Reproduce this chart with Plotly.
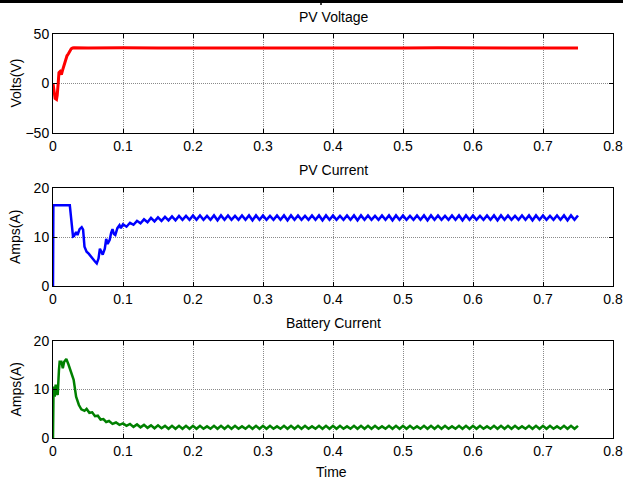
import plotly.graph_objects as go

# ---------------- data ----------------
# PV voltage (V)
v_t = [0, 0.002, 0.003, 0.005, 0.006, 0.0076, 0.0085, 0.010, 0.012, 0.0135, 0.015,
       0.018, 0.020, 0.022, 0.024, 0.026, 0.028, 0.030, 0.05, 0.07, 0.10, 0.15,
       0.20, 0.25, 0.30, 0.35, 0.40, 0.45, 0.50, 0.55, 0.60, 0.65, 0.70, 0.75]
v_y = [0, -8, -15, -16, -12, 2, 11, 12, 9, 13, 17,
       25, 28, 30, 33, 35, 35.8, 36, 35.8, 35.6, 36, 35.9,
       35.8, 36, 35.9, 35.8, 36, 35.9, 35.8, 36, 35.9, 35.8, 36, 35.9]

# PV current (A) – start-up transient
i_t0 = [0, 0.0005, 0.024, 0.026, 0.0286, 0.030, 0.033, 0.035, 0.038, 0.041, 0.043,
        0.045, 0.048, 0.051, 0.054, 0.057, 0.060, 0.0625, 0.065, 0.067, 0.069, 0.071,
        0.074, 0.076, 0.078, 0.081, 0.083, 0.085, 0.087, 0.089, 0.092, 0.095, 0.097]
i_y0 = [0, 16.5, 16.5, 14.1, 10.1, 10.2, 11.0, 10.4, 11.6, 12.0, 11.5,
        8.0, 7.0, 6.6, 6.0, 5.6, 5.0, 4.6, 5.6, 7.6, 7.0, 6.4,
        7.6, 9.6, 8.6, 9.4, 10.8, 11.6, 10.6, 10.4, 11.8, 12.4, 11.8]

# battery current (A) – start-up transient
b_t0 = [0, 0.0008, 0.0024, 0.0038, 0.0055, 0.0067, 0.0085, 0.0095, 0.012, 0.014,
        0.016, 0.019, 0.022, 0.025, 0.0295, 0.033, 0.037, 0.0405, 0.045, 0.048,
        0.052, 0.056, 0.060, 0.064, 0.068, 0.072, 0.076, 0.080, 0.085, 0.090, 0.095]
b_y0 = [0, 10.6, 8.5, 11.0, 9.2, 8.9, 14.0, 15.7, 15.7, 14.4,
        15.7, 16.3, 15.2, 13.7, 12.0, 8.5, 6.8, 5.9, 5.6, 6.0,
        5.2, 5.3, 4.5, 4.6, 3.8, 3.9, 3.3, 3.5, 2.9, 3.2, 2.7]

# ripple region sample times (s)
r_t = [0.100, 0.105, 0.110, 0.115, 0.120, 0.125, 0.130, 0.135, 0.140, 0.145,
       0.150, 0.155, 0.160, 0.165, 0.170, 0.175, 0.180, 0.185, 0.190, 0.195,
       0.200, 0.205, 0.210, 0.215, 0.220, 0.225, 0.230, 0.235, 0.240, 0.245,
       0.250, 0.255, 0.260, 0.265, 0.270, 0.275, 0.280, 0.285, 0.290, 0.295,
       0.300, 0.305, 0.310, 0.315, 0.320, 0.325, 0.330, 0.335, 0.340, 0.345,
       0.350, 0.355, 0.360, 0.365, 0.370, 0.375, 0.380, 0.385, 0.390, 0.395,
       0.400, 0.405, 0.410, 0.415, 0.420, 0.425, 0.430, 0.435, 0.440, 0.445,
       0.450, 0.455, 0.460, 0.465, 0.470, 0.475, 0.480, 0.485, 0.490, 0.495,
       0.500, 0.505, 0.510, 0.515, 0.520, 0.525, 0.530, 0.535, 0.540, 0.545,
       0.550, 0.555, 0.560, 0.565, 0.570, 0.575, 0.580, 0.585, 0.590, 0.595,
       0.600, 0.605, 0.610, 0.615, 0.620, 0.625, 0.630, 0.635, 0.640, 0.645,
       0.650, 0.655, 0.660, 0.665, 0.670, 0.675, 0.680, 0.685, 0.690, 0.695,
       0.700, 0.705, 0.710, 0.715, 0.720, 0.725, 0.730, 0.735, 0.740, 0.745,
       0.750]

# PV current ripple values
i_r = [12.6, 12.1, 12.9, 12.5, 13.3, 12.8, 13.6, 13.0, 13.9, 13.2,
       14.0, 13.3, 14.1, 13.4, 14.2, 13.4, 14.3, 13.5, 14.3, 13.5,
       14.4, 13.5, 14.4, 13.5, 14.3, 13.5, 14.4, 13.4, 14.4, 13.5,
       14.4, 13.5, 14.3, 13.5, 14.4, 13.5, 14.4, 13.4, 14.4, 13.5,
       14.4, 13.5, 14.3, 13.5, 14.4, 13.5, 14.4, 13.4, 14.4, 13.5,
       14.4, 13.5, 14.3, 13.5, 14.4, 13.5, 14.4, 13.4, 14.4, 13.5,
       14.4, 13.5, 14.3, 13.5, 14.4, 13.5, 14.4, 13.4, 14.4, 13.5,
       14.4, 13.5, 14.3, 13.5, 14.4, 13.5, 14.4, 13.4, 14.4, 13.5,
       14.4, 13.5, 14.3, 13.5, 14.4, 13.5, 14.4, 13.4, 14.4, 13.5,
       14.4, 13.5, 14.3, 13.5, 14.4, 13.5, 14.4, 13.4, 14.4, 13.5,
       14.4, 13.5, 14.3, 13.5, 14.4, 13.5, 14.4, 13.4, 14.4, 13.5,
       14.4, 13.5, 14.3, 13.5, 14.4, 13.5, 14.4, 13.4, 14.4, 13.5,
       14.4, 13.5, 14.3, 13.5, 14.4, 13.5, 14.4, 13.4, 14.4, 13.5,
       14.4]

# battery current ripple values
b_r = [3.0, 2.5, 2.9, 2.3, 2.8, 2.2, 2.7, 2.1, 2.6, 2.0,
       2.6, 2.0, 2.5, 1.9, 2.5, 1.9, 2.5, 1.9, 2.5, 1.9,
       2.5, 1.9, 2.5, 1.9, 2.4, 1.9, 2.5, 1.9, 2.5, 1.9,
       2.5, 1.9, 2.5, 1.9, 2.4, 1.9, 2.5, 1.9, 2.5, 1.9,
       2.5, 1.9, 2.5, 1.9, 2.4, 1.9, 2.5, 1.9, 2.5, 1.9,
       2.5, 1.9, 2.5, 1.9, 2.4, 1.9, 2.5, 1.9, 2.5, 1.9,
       2.5, 1.9, 2.5, 1.9, 2.4, 1.9, 2.5, 1.9, 2.5, 1.9,
       2.5, 1.9, 2.5, 1.9, 2.4, 1.9, 2.5, 1.9, 2.5, 1.9,
       2.5, 1.9, 2.5, 1.9, 2.4, 1.9, 2.5, 1.9, 2.5, 1.9,
       2.5, 1.9, 2.5, 1.9, 2.4, 1.9, 2.5, 1.9, 2.5, 1.9,
       2.5, 1.9, 2.5, 1.9, 2.4, 1.9, 2.5, 1.9, 2.5, 1.9,
       2.5, 1.9, 2.5, 1.9, 2.4, 1.9, 2.5, 1.9, 2.5, 1.9,
       2.5, 1.9, 2.5, 1.9, 2.4, 1.9, 2.5, 1.9, 2.5, 1.9,
       2.5]

titles = ["PV Voltage", "PV Current", "Battery Current"]
ylabels = ["Volts(V)", "Amps(A)", "Amps(A)"]
x_ticks = [0, 0.1, 0.2, 0.3, 0.4, 0.5, 0.6, 0.7, 0.8]
x_ticktext = ["0", "0.1", "0.2", "0.3", "0.4", "0.5", "0.6", "0.7", "0.8"]

# ---------------- figure ----------------
W, H = 623, 482
FONT = "Liberation Sans, Arial, sans-serif"
FS = 14
fig = go.Figure()

fig.add_trace(go.Scatter(x=v_t, y=v_y, mode="lines", line=dict(color="#ff0000", width=3),
                         xaxis="x", yaxis="y", showlegend=False, hoverinfo="skip"))
fig.add_trace(go.Scatter(x=i_t0 + r_t, y=i_y0 + i_r, mode="lines",
                         line=dict(color="#0000ff", width=2.5),
                         xaxis="x2", yaxis="y2", showlegend=False, hoverinfo="skip"))
fig.add_trace(go.Scatter(x=b_t0 + r_t, y=b_y0 + b_r, mode="lines",
                         line=dict(color="#008000", width=2.5),
                         xaxis="x3", yaxis="y3", showlegend=False, hoverinfo="skip"))

# panel pixel boxes (top, bottom)
panels = [(34, 133), (188, 286), (341, 438)]
x0px, x1px = 53, 613
xdom = [x0px / W, x1px / W]

common_axis = dict(showline=True, linecolor="black", linewidth=1, mirror="allticks",
                   ticks="inside", ticklen=4, tickcolor="black", automargin=False,
                   showgrid=True, gridcolor="#8a8a8a", griddash="1px,1px", gridwidth=1,
                   zeroline=False, ticklabeloverflow="allow",
                   tickfont=dict(family=FONT, size=FS, color="black"))

yranges = [[-50, 50], [0, 20], [0, 20]]
yticks = [[-50, 0, 50], [0, 10, 20], [0, 10, 20]]

layout = dict(width=W, height=H, autosize=False,
              margin=dict(l=0, r=0, t=0, b=0, pad=0, autoexpand=False),
              paper_bgcolor="white", plot_bgcolor="white", hovermode=False,
              font=dict(family=FONT, size=FS, color="black"))
for k, (top, bot) in enumerate(panels):
    sfx = "" if k == 0 else str(k + 1)
    ydom = [1 - bot / H, 1 - top / H]
    layout["xaxis" + sfx] = dict(common_axis, domain=xdom, range=[0, 0.8],
                                 tickvals=x_ticks, ticktext=x_ticktext,
                                 anchor="y" + sfx)
    layout["yaxis" + sfx] = dict(common_axis, domain=ydom, range=yranges[k],
                                 tickvals=yticks[k], anchor="x" + sfx)
fig.update_layout(**layout)

ann = []
title_y = [17, 170, 323]
for k, (top, bot) in enumerate(panels):
    ann.append(dict(text=titles[k], x=(x0px + x1px) / 2 / W, y=1 - title_y[k] / H,
                    xref="paper", yref="paper", showarrow=False,
                    xanchor="center", yanchor="middle",
                    font=dict(family=FONT, size=FS, color="black")))
    ann.append(dict(text=ylabels[k], x=15 / W, y=1 - (top + bot) / 2 / H,
                    xref="paper", yref="paper", showarrow=False, textangle=-90,
                    xanchor="center", yanchor="middle",
                    font=dict(family=FONT, size=FS, color="black")))
ann.append(dict(text="Time", x=331 / W, y=1 - 472 / H, xref="paper", yref="paper",
                showarrow=False, xanchor="center", yanchor="middle",
                font=dict(family=FONT, size=FS, color="black")))
fig.update_layout(annotations=ann)

# top border line of the source page
fig.add_shape(type="line", xref="paper", yref="paper", x0=0, x1=1,
              y0=1 - 1.5 / H, y1=1 - 1.5 / H, line=dict(color="black", width=3))
fig.add_shape(type="line", xref="paper", yref="paper", x0=321 / W, x1=321 / W,
              y0=1, y1=1 - 5 / H, line=dict(color="black", width=1.5))

post = ("document.body.style.margin='0';"
        "document.body.style.overflow='hidden';"
        "document.documentElement.style.overflow='hidden';")
fig.write_html("out.html", config={"displayModeBar": False}, post_script=post)
